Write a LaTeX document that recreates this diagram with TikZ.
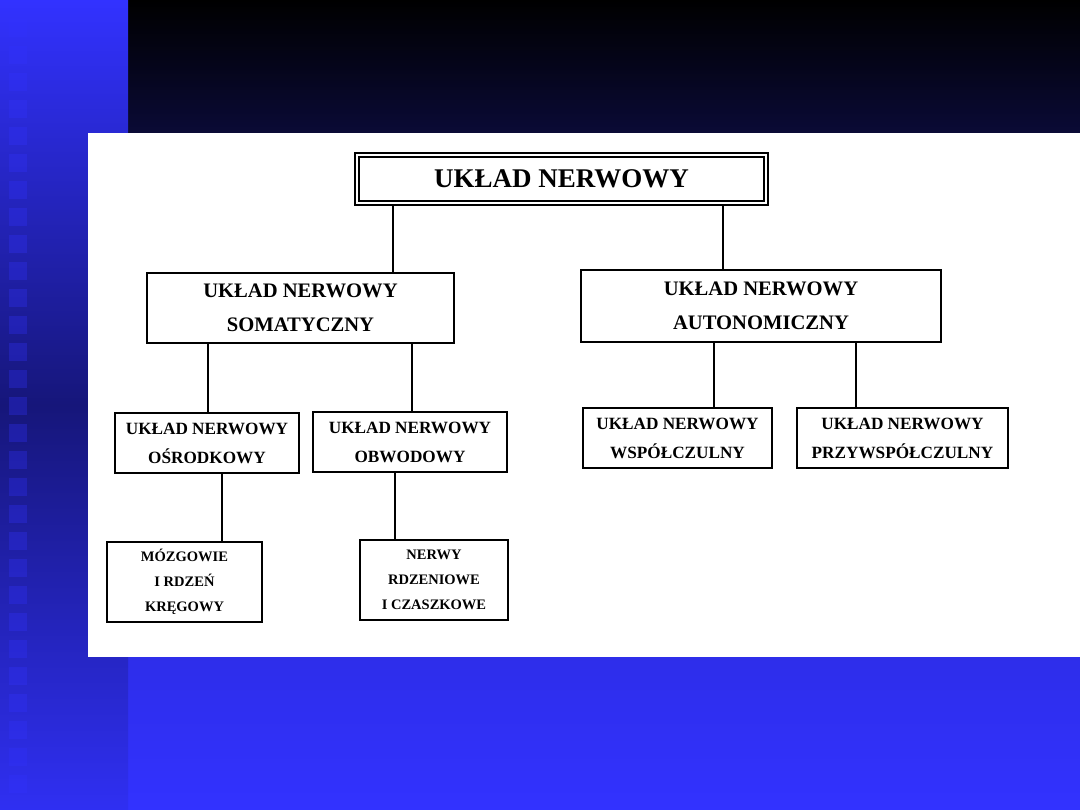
\documentclass[tikz,border=0pt]{standalone}
\usepackage{fontspec}
\setmainfont{Liberation Serif}
\usepackage{xcolor}
\usetikzlibrary{positioning}
\definecolor{slideblue}{HTML}{3232FF}
\definecolor{slidedark}{HTML}{16167A}
\definecolor{bandtop}{HTML}{000000}
\definecolor{bandbot}{HTML}{0A0A36}

\begin{document}
\begin{tikzpicture}[x=1pt, y=-1pt,
  lvla/.style={draw, line width=2.2pt, double, double distance=1.5pt, inner sep=0pt,
               align=center, font=\fontsize{27}{32}\selectfont\bfseries},
  lvlb/.style={draw, line width=2.6pt, inner sep=0pt, align=center,
               font=\fontsize{20.6}{34}\selectfont\bfseries},
  lvlc/.style={draw, line width=2.8pt, inner sep=0pt, align=center,
               font=\fontsize{17.2}{29}\selectfont\bfseries},
  lvld/.style={draw, line width=2.6pt, inner sep=0pt, align=center,
               font=\fontsize{14.5}{25}\selectfont\bfseries},
  ln/.style={line width=2.6pt}]
\useasboundingbox (0,0) rectangle (1080,810);
% slide background
\shade[top color=slidedark!70!slideblue, bottom color=slideblue] (128,133) rectangle (1080,810);
\shade[top color=bandtop, bottom color=bandbot] (128,0) rectangle (1080,133);
\shade[top color=slideblue, bottom color=slideblue!95!black, middle color=slidedark] (0,0) rectangle (128,810);
\foreach \k in {0,...,28}
  \fill[slideblue, opacity=0.3] (9,19+27*\k) rectangle (27,37+27*\k);
% scanned page
\fill[white] (88,133) rectangle (1080,657);

% boxes
\node[lvla, minimum width=409pt, minimum height=48pt] (top) at (561.5,179) {UKŁAD NERWOWY};
\node[lvlb, minimum width=307pt, minimum height=70pt] (som) at (300.5,308) {UKŁAD NERWOWY\\SOMATYCZNY};
\node[lvlb, minimum width=360pt, minimum height=72pt] (aut) at (761,306) {UKŁAD NERWOWY\\AUTONOMICZNY};
\node[lvlc, minimum width=184pt, minimum height=60pt] (osr) at (207,443) {UKŁAD NERWOWY\\OŚRODKOWY};
\node[lvlc, minimum width=194pt, minimum height=60pt] (obw) at (410,442) {UKŁAD NERWOWY\\OBWODOWY};
\node[lvlc, minimum width=189pt, minimum height=60pt] (wsp) at (677.5,438) {UKŁAD NERWOWY\\WSPÓŁCZULNY};
\node[lvlc, minimum width=211pt, minimum height=60pt] (prz) at (902.5,438) {UKŁAD NERWOWY\\PRZYWSPÓŁCZULNY};
\node[lvld, minimum width=155pt, minimum height=80pt] (moz) at (184.5,582) {MÓZGOWIE\\I RDZEŃ\\KRĘGOWY};
\node[lvld, minimum width=148pt, minimum height=80pt] (ner) at (434,580) {NERWY\\RDZENIOWE\\I CZASZKOWE};

% connectors
\draw[ln] (top.south -| 393,0) -- (som.north -| 393,0);
\draw[ln] (top.south -| 723,0) -- (aut.north -| 723,0);
\draw[ln] (som.south -| 208,0) -- (osr.north -| 208,0);
\draw[ln] (som.south -| 412,0) -- (obw.north -| 412,0);
\draw[ln] (aut.south -| 714,0) -- (wsp.north -| 714,0);
\draw[ln] (aut.south -| 856,0) -- (prz.north -| 856,0);
\draw[ln] (osr.south -| 222,0) -- (moz.north -| 222,0);
\draw[ln] (obw.south -| 395,0) -- (ner.north -| 395,0);
\end{tikzpicture}
\end{document}
